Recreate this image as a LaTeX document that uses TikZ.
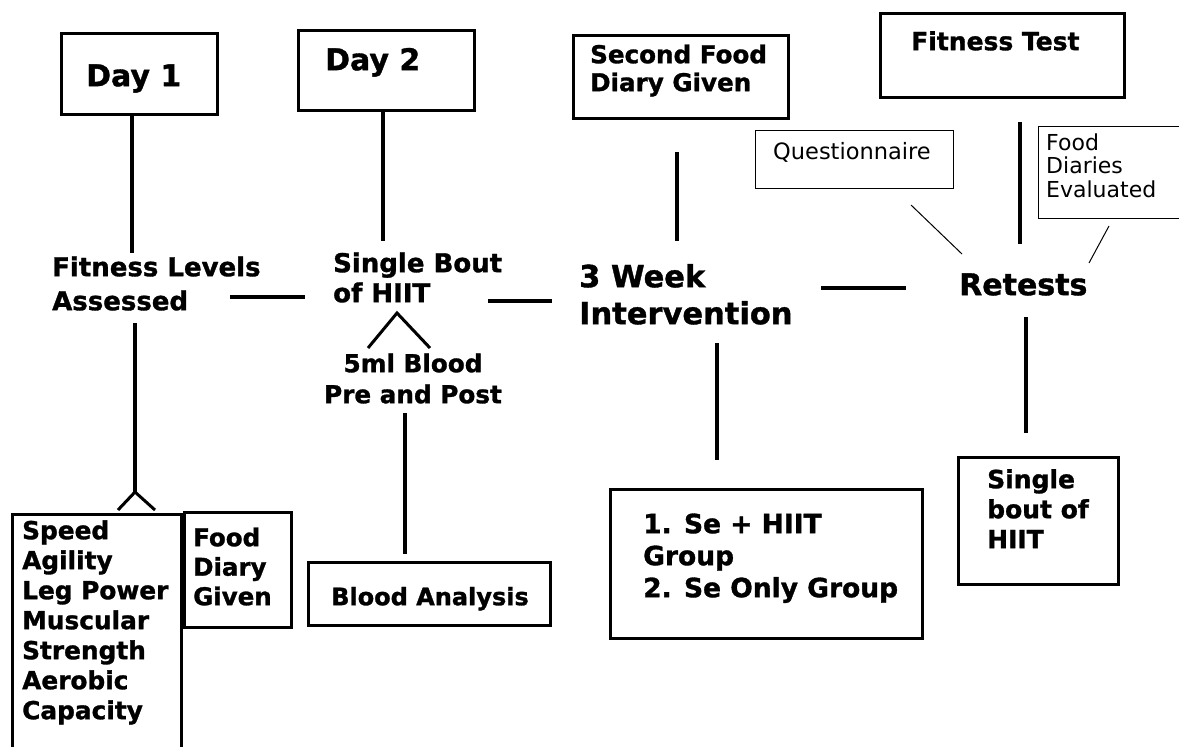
\documentclass[tikz,border=0pt]{standalone}
\usepackage{fontspec}
\setmainfont{DejaVu Sans}[BoldFeatures={FakeBold=1.2}]
\newcommand\tsz[2]{\fontsize{#1}{#2}\selectfont}
\newcommand\ts[1]{\rule{0pt}{#1pt}}
\tikzset{
  box/.style={draw, line width=3pt, anchor=north west, inner sep=0pt},
  thinbox/.style={draw, line width=1.2pt, anchor=north west, inner sep=0pt},
  txt/.style={anchor=north west, inner sep=0pt, align=left},
  conn/.style={line width=3.5pt},
  thinconn/.style={line width=1pt},
}
\begin{document}
\begin{tikzpicture}[x=1pt,y=-1pt]
\useasboundingbox[fill=white] (0,0) rectangle (1179,747);
% boxes
\node[box, minimum width=156pt, minimum height=81pt] (day1) at (60,32) {};
\node[box, minimum width=176pt, minimum height=80pt] (day2) at (297,29) {};
\node[box, minimum width=215pt, minimum height=83pt] (sfd) at (572,34) {};
\node[box, minimum width=244pt, minimum height=84pt] (ftest) at (879,12) {};
\node[thinbox, minimum width=198pt, minimum height=58pt] (quest) at (755,130) {};
\node[thinbox, minimum width=150pt, minimum height=92pt] (fde) at (1038,126) {};
\node[box, minimum width=169pt, minimum height=260pt] (speed) at (11,513) {};
\node[box, minimum width=107pt, minimum height=115pt] (fdg) at (183,511) {};
\node[box, minimum width=242pt, minimum height=63pt] (blood) at (307,561) {};
\node[box, minimum width=312pt, minimum height=149pt] (sebox) at (609,488) {};
\node[box, minimum width=160pt, minimum height=127pt] (sbout) at (957,456) {};
% texts
\node[txt, font=\bfseries\tsz{30}{36}] (tday1) at (86,62) {\ts{24}Day 1};
\node[txt, font=\bfseries\tsz{30}{36}] (tday2) at (325,46) {\ts{24}Day 2};
\node[txt, font=\bfseries\tsz{26}{34}] (fit) at (52,255.2) {\ts{20.8}Fitness Levels\\Assessed};
\node[txt, font=\bfseries\tsz{26}{30}] (sb) at (333,251.2) {\ts{20.8}Single Bout\\of HIIT};
\node[txt, font=\bfseries\tsz{30.5}{37}] (week) at (579,262.6) {\ts{24.4}3 Week\\Intervention};
\node[txt, font=\bfseries\tsz{30}{36}] (ret) at (959,271) {\ts{24}Retests};
\node[anchor=north, inner sep=0pt, align=center, font=\bfseries\tsz{24.7}{31}] (ml) at (413,352.2) {\ts{19.8}5ml Blood\\Pre and Post};
\node[txt, font=\bfseries\tsz{24.6}{28}] (tsfd) at (590,43.3) {\ts{19.7}Second Food\\Diary Given};
\node[txt, font=\bfseries\tsz{25}{30}] (tftest) at (911,30) {\ts{20}Fitness Test};
\node[txt, font=\tsz{22.5}{27}] (tquest) at (773,141) {\ts{18}Questionnaire};
\node[txt, font=\tsz{22}{23.5}] (tfde) at (1046,132.4) {\ts{17.6}Food\\Diaries\\Evaluated};
\node[txt, font=\bfseries\tsz{24.8}{30}] (tspeed) at (22,519.2) {\ts{19.8}Speed\\Agility\\Leg Power\\Muscular\\Strength\\Aerobic\\Capacity};
\node[txt, font=\bfseries\tsz{24.5}{29.5}] (tfdg) at (193,526.4) {\ts{19.6}Food\\Diary\\Given};
\node[txt, font=\bfseries\tsz{24}{30}] (tblood) at (331,585.8) {\ts{19.2}Blood Analysis};
\node[txt, font=\bfseries\tsz{26.5}{32}] (tse) at (643,511.8) {\ts{21.2}1. Se + HIIT\\Group\\2. Se Only Group};
\node[txt, font=\bfseries\tsz{25}{30}] (tsbout) at (987,468) {\ts{20}Single\\bout of\\HIIT};
% connector end points
\coordinate (d1a) at (132,113); \coordinate (d1b) at (132,253);
\coordinate (d2a) at (383,109); \coordinate (d2b) at (383,241);
\coordinate (fh1) at (230,297); \coordinate (fh2) at (305,297);
\coordinate (sh1) at (488,301); \coordinate (sh2) at (552,301);
\coordinate (sf1) at (677,152); \coordinate (sf2) at (677,241);
\coordinate (wr1) at (821,288); \coordinate (wr2) at (906,288);
\coordinate (ft1) at (1020,122); \coordinate (ft2) at (1020,244);
\coordinate (q1) at (911,205); \coordinate (q2) at (962,254);
\coordinate (e1) at (1109,226); \coordinate (e2) at (1089,263);
\coordinate (w1) at (717,343); \coordinate (w2) at (717,460);
\coordinate (r1) at (1026,317); \coordinate (r2) at (1026,433);
\coordinate (c1) at (368,348); \coordinate (c2) at (397,313); \coordinate (c3) at (430,348);
\coordinate (m1) at (405,413); \coordinate (m2) at (405,554);
\coordinate (f1) at (135,323); \coordinate (f2) at (135,492);
\coordinate (f3) at (118,510); \coordinate (f4) at (155,510);
% connectors
\draw[conn] (d1a) -- (d1b);
\draw[conn] (d2a) -- (d2b);
\draw[conn] (fh1) -- (fh2);
\draw[conn] (sh1) -- (sh2);
\draw[conn] (sf1) -- (sf2);
\draw[conn] (wr1) -- (wr2);
\draw[conn] (ft1) -- (ft2);
\draw[thinconn] (q1) -- (q2);
\draw[thinconn] (e1) -- (e2);
\draw[conn] (w1) -- (w2);
\draw[conn] (r1) -- (r2);
\draw[line width=3pt] (c1) -- (c2) -- (c3);
\draw[conn] (m1) -- (m2);
\draw[conn] (f1) -- (f2);
\draw[line width=3pt] (f3) -- (f2) -- (f4);
\end{tikzpicture}
\end{document}
